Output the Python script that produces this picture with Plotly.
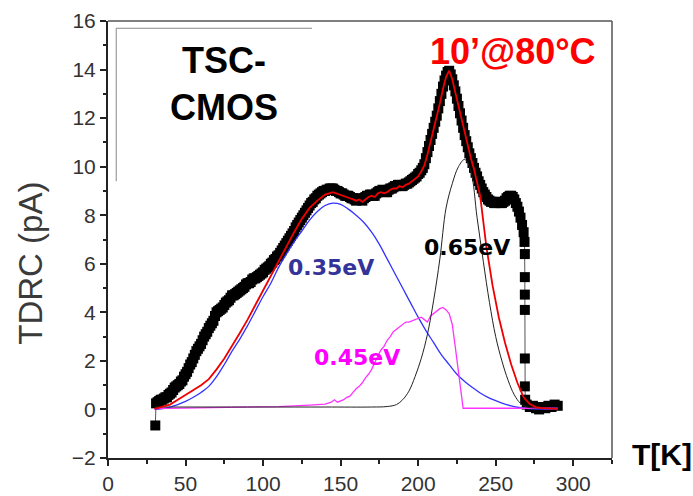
import plotly.graph_objects as go

# ---- measured TDRC data (black squares), 1 K steps from 31 K to 268 K ----
I_data_main = [
    0.25, 0.3, 0.35, 0.4, 0.4, 0.45, 0.5, 0.5, 0.6, 0.65,            # 31-40
    0.7, 0.8, 0.9, 0.95, 1.0, 1.05, 1.15, 1.2, 1.35, 1.45,           # 41-50
    1.55, 1.7, 1.85, 1.95, 2.1, 2.25, 2.4, 2.5, 2.6, 2.7,            # 51-60
    2.85, 3.0, 3.1, 3.2, 3.35, 3.45, 3.55, 3.65, 3.85, 4.0,          # 61-70
    4.05, 4.1, 4.15, 4.2, 4.3, 4.4, 4.45, 4.5, 4.6, 4.7,             # 71-80
    4.7, 4.75, 4.8, 4.85, 4.9, 4.95, 5.0, 5.05, 5.15, 5.2,           # 81-90
    5.2, 5.25, 5.35, 5.4, 5.4, 5.45, 5.5, 5.55, 5.6, 5.65,           # 91-100
    5.75, 5.8, 5.85, 5.9, 6.0, 6.05, 6.15, 6.2, 6.3, 6.35,           # 101-110
    6.45, 6.55, 6.65, 6.75, 6.85, 6.95, 7.05, 7.15, 7.25, 7.35,      # 111-120
    7.5, 7.6, 7.7, 7.8, 7.9, 8.0, 8.1, 8.2, 8.3, 8.4,                # 121-130
    8.5, 8.55, 8.65, 8.7, 8.8, 8.85, 8.9, 8.95, 9.0, 9.0,            # 131-140
    9.05, 9.05, 9.1, 9.1, 9.1, 9.05, 9.0, 9.0, 8.95, 8.9,            # 141-150
    8.9, 8.85, 8.8, 8.8, 8.8, 8.75, 8.7, 8.7, 8.65, 8.6,             # 151-160
    8.65, 8.7, 8.65, 8.6, 8.7, 8.75, 8.8, 8.8, 8.85, 8.85,           # 161-170
    8.8, 8.8, 8.9, 8.95, 9.0, 9.0, 9.05, 9.0, 8.95, 8.95,            # 171-180
    9.05, 9.1, 9.1, 9.15, 9.2, 9.2, 9.25, 9.25, 9.2, 9.2,            # 181-190
    9.25, 9.3, 9.3, 9.35, 9.4, 9.45, 9.5, 9.55, 9.6, 9.7,            # 191-200
    9.75, 9.85, 9.95, 10.1, 10.35, 10.6, 10.85, 11.1, 11.35, 11.6,   # 201-210
    11.85, 12.1, 12.4, 12.7, 13.0, 13.3, 13.55, 13.75, 13.9, 13.95,  # 211-220
    13.8, 13.6, 13.35, 13.1, 12.8, 12.5, 12.2, 11.9, 11.6, 11.3,     # 221-230
    11.05, 10.8, 10.55, 10.35, 10.15, 9.95, 9.75, 9.6, 9.4, 9.25,    # 231-240
    9.1, 8.95, 8.85, 8.75, 8.65, 8.6, 8.55, 8.55, 8.5, 8.5,          # 241-250
    8.55, 8.55, 8.5, 8.5, 8.55, 8.6, 8.7, 8.75, 8.8, 8.8,            # 251-260
    8.75, 8.65, 8.5, 8.35, 8.15, 7.9, 7.6, 7.3,                      # 261-268
]
# first point, steep drop near 269 K and the flat tail
T_data_tail = [268.6, 268.8, 268.8, 268.8, 268.8, 268.8, 268.8, 269.0,
               270, 272, 274, 276, 278, 280, 282, 284, 286, 288, 290]
I_data_tail = [6.9, 6.4, 5.45, 4.73, 4.1, 2.1, 0.95, 0.4,
               0.2, 0.1, 0.15, 0.05, 0.0, 0.1, 0.05, 0.15, 0.1, 0.2, 0.15]

T_data = [30.5] + list(range(31, 269)) + T_data_tail
I_data = [-0.66] + I_data_main + I_data_tail

# ---- total fit (red) ----
T_fit = [30, 35, 40, 45, 50, 55, 60, 65, 70, 75, 80, 85, 90, 95, 100, 105, 110, 115, 120, 125,
         130, 135, 140, 145, 150, 152, 154, 156, 158, 160, 162, 164, 166, 168, 170, 172, 174, 176,
         178, 180, 182, 184, 186, 188, 190, 192, 194, 196, 198, 200, 202, 204, 206, 208, 210, 212,
         214, 216, 218, 220, 222, 224, 226, 228, 230, 232, 234, 236, 238, 240, 244, 248, 252, 256,
         260, 264, 268, 272, 276, 280, 285, 290]
I_fit = [0.02, 0.1, 0.2, 0.4, 0.6, 0.8, 1.0, 1.25, 1.65, 2.1, 2.6, 3.15, 3.7, 4.3, 4.95, 5.5, 6.15, 6.7, 7.3, 7.85,
         8.3, 8.6, 8.85, 8.95, 8.85, 8.8, 8.75, 8.7, 8.65, 8.6, 8.65, 8.55, 8.65, 8.75, 8.8, 8.75, 8.9, 8.95,
         8.9, 8.95, 9.05, 9.1, 9.1, 9.2, 9.15, 9.25, 9.3, 9.4, 9.5, 9.6, 9.8, 10.05, 10.5, 11.0, 11.5, 12.0,
         12.6, 13.2, 13.7, 13.95, 13.6, 13.05, 12.5, 11.9, 11.35, 10.85, 10.35, 9.9, 9.35, 8.8, 6.7, 5.1, 3.8, 2.75,
         1.85, 1.1, 0.5, 0.22, 0.1, 0.05, 0.03, 0.02]

# ---- 0.35 eV component (blue) ----
T_035 = [30, 35, 40, 45, 50, 55, 60, 65, 70, 75, 80, 85, 90, 95, 100, 105, 110, 115, 120, 125, 130,
         135, 140, 145, 150, 155, 160, 165, 170, 175, 180, 185, 190, 195, 200, 205, 210, 215, 220,
         225, 230, 235, 240, 245, 250, 255, 260, 265, 270, 280, 290]
I_035 = [0.0, 0.03, 0.1, 0.2, 0.33, 0.5, 0.7, 0.95, 1.35, 1.85, 2.4, 2.9, 3.45, 4.05, 4.65, 5.2, 5.85, 6.4, 6.9, 7.35, 7.8,
         8.15, 8.4, 8.5, 8.45, 8.25, 8.0, 7.7, 7.3, 6.8, 6.2, 5.6, 5.0, 4.4, 3.8, 3.25, 2.75, 2.25, 1.85,
         1.45, 1.15, 0.9, 0.68, 0.5, 0.36, 0.24, 0.15, 0.08, 0.04, 0.01, 0.0]

# ---- 0.45 eV component (magenta) ----
T_045 = [30, 50, 70, 90, 110, 130, 140, 144, 146, 148, 150, 152, 154, 156, 158, 160, 162, 164, 166, 168,
         170, 172, 174, 176, 178, 180, 182, 184, 186, 188, 190, 192, 194, 196, 198, 200, 202, 204, 206,
         208, 210, 212, 214, 216, 218, 220, 222, 224, 226, 228, 229, 240, 260, 280, 290]
I_045 = [0.03, 0.05, 0.07, 0.1, 0.12, 0.18, 0.22, 0.3, 0.4, 0.3, 0.35, 0.4, 0.5, 0.55, 0.7, 0.85, 0.95, 1.1, 1.3, 1.45,
         1.65, 1.95, 2.2, 2.45, 2.6, 2.85, 3.0, 3.2, 3.3, 3.4, 3.5, 3.6, 3.6, 3.65, 3.7, 3.75, 3.8, 3.7, 3.6,
         3.85, 3.95, 4.05, 4.15, 4.2, 4.1, 3.95, 3.5, 2.55, 1.45, 0.5, 0.05, 0.05, 0.05, 0.05, 0.05]

# ---- 0.65 eV component (black) ----
T_065 = [30, 60, 100, 140, 170, 180, 186, 190, 194, 198, 202, 206, 210, 214, 218, 222, 226, 230, 234,
         238, 242, 246, 250, 254, 258, 262, 266, 270, 280, 290]
I_065 = [0.1, 0.1, 0.1, 0.1, 0.1, 0.12, 0.2, 0.4, 0.75, 1.35, 2.1, 3.1, 4.5, 6.2, 8.3, 9.3, 10.0, 10.3, 9.8,
         7.9, 6.1, 4.4, 3.0, 2.0, 1.2, 0.6, 0.25, 0.1, 0.05, 0.02]

# ---- axis ticks ----
x_ticks = [0, 50, 100, 150, 200, 250, 300]
y_ticks = [-2, 0, 2, 4, 6, 8, 10, 12, 14, 16]

TICK_FONT = "Liberation Sans Narrow, Arial Narrow, Liberation Sans, Arial"
SANS = "Liberation Sans, Arial, sans-serif"
LABEL_FONT = "Comic Sans MS, DejaVu Sans, sans-serif"

fig = go.Figure()

fig.add_trace(go.Scatter(
    x=T_data, y=I_data, mode="lines+markers",
    line=dict(color="#555555", width=1),
    marker=dict(symbol="square", size=10, color="black", line=dict(width=0)),
    showlegend=False))
fig.add_trace(go.Scatter(x=T_035, y=I_035, mode="lines", line=dict(color="#3333ff", width=1.3, shape="spline"),
                         showlegend=False))
fig.add_trace(go.Scatter(x=T_045, y=I_045, mode="lines", line=dict(color="#ff33ff", width=1.3),
                         showlegend=False))
fig.add_trace(go.Scatter(x=T_065, y=I_065, mode="lines", line=dict(color="#222222", width=1, shape="spline"),
                         showlegend=False))
fig.add_trace(go.Scatter(x=T_fit, y=I_fit, mode="lines", line=dict(color="#ee0000", width=1.8),
                         showlegend=False))

annotations = [
    dict(x=75, y=13.4, xref="x", yref="y", text="<b>TSC-<br>CMOS</b>", showarrow=False,
         font=dict(family=SANS, size=36, color="black"), align="center"),
    dict(x=260.9, y=14.74, xref="x", yref="y", text="<b>10’@80°C</b>", showarrow=False,
         font=dict(family=SANS, size=36, color="#ff0000")),
    dict(x=144, y=5.84, xref="x", yref="y", text="<b>0.35eV</b>", showarrow=False,
         font=dict(family=LABEL_FONT, size=22, color="#333399")),
    dict(x=160.3, y=2.15, xref="x", yref="y", text="<b>0.45eV</b>", showarrow=False,
         font=dict(family=LABEL_FONT, size=22, color="#ff00ff")),
    dict(x=231.2, y=6.68, xref="x", yref="y", text="<b>0.65eV</b>", showarrow=False,
         font=dict(family=LABEL_FONT, size=22, color="black")),
    dict(x=1.099, y=0.0075, xref="paper", yref="paper", text="<b>T[K]</b>", showarrow=False,
         xanchor="center", yanchor="middle",
         font=dict(family=SANS, size=30, color="black")),
    dict(x=-0.154, y=0.4455, xref="paper", yref="paper", text="TDRC (pA)", showarrow=False,
         xanchor="center", yanchor="middle",
         textangle=-90, font=dict(family=SANS, size=33, color="#3a3a3a")),
]

shapes = [
    # top and right frame lines
    dict(type="line", xref="paper", yref="paper", x0=0, x1=1, y0=1, y1=1,
         line=dict(color="#555555", width=1.5)),
    dict(type="line", xref="paper", yref="paper", x0=1, x1=1, y0=0, y1=1,
         line=dict(color="#555555", width=1.5)),
    # leftover frame of the legend box
    dict(type="line", xref="x", yref="y", x0=5.3, x1=5.3, y0=9.4, y1=15.7,
         line=dict(color="#888888", width=1)),
    dict(type="line", xref="x", yref="y", x0=5.3, x1=131.5, y0=15.7, y1=15.7,
         line=dict(color="#888888", width=1)),
]

fig.update_layout(
    width=693, height=496,
    margin=dict(l=108, r=81, t=21, b=38),
    paper_bgcolor="white", plot_bgcolor="white",
    annotations=annotations, shapes=shapes,
    xaxis=dict(range=[0, 325], tickvals=x_ticks, ticks="outside", ticklen=6, tickwidth=1.5,
               tickcolor="#222222", showline=True, linecolor="#222222", linewidth=2,
               showgrid=False, zeroline=False, automargin=False,
               minor=dict(ticks="outside", dtick=25, ticklen=4, tickwidth=1.5, tickcolor="#222222"),
               tickfont=dict(family=TICK_FONT, size=21, color="#333333")),
    yaxis=dict(range=[-2, 16], tickvals=y_ticks, ticks="outside", ticklen=6, tickwidth=1.5,
               tickcolor="#222222", showline=True, linecolor="#222222", linewidth=2,
               showgrid=False, zeroline=False, automargin=False,
               minor=dict(ticks="outside", dtick=1, ticklen=3, tickwidth=1.5, tickcolor="#222222"),
               tickfont=dict(family=TICK_FONT, size=21, color="#333333")),
)

fig.write_html("out.html")
